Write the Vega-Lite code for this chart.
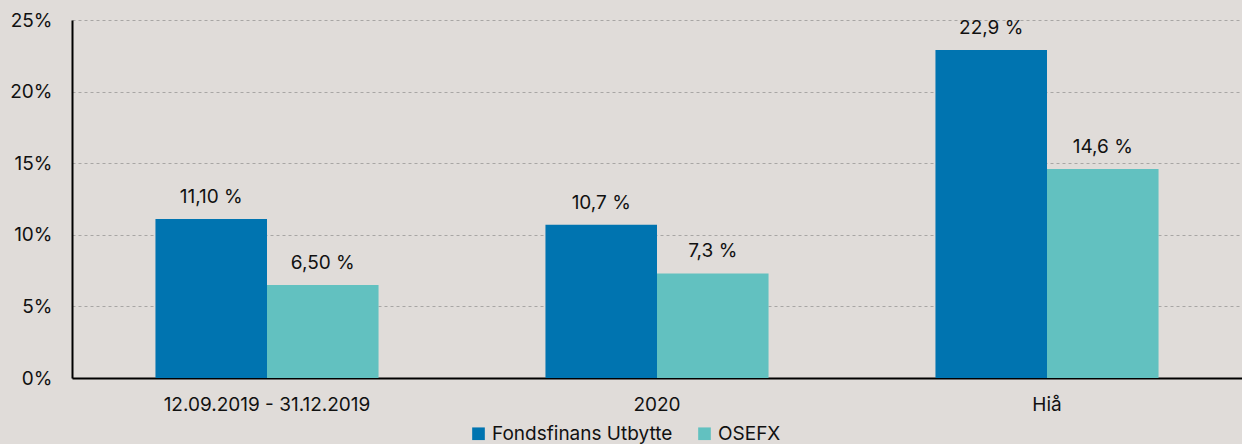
{
  "$schema": "https://vega.github.io/schema/vega-lite/v6.json",
  "width": 1170,
  "height": 358,
  "autosize": {"type": "none"},
  "padding": {"left": 72, "top": 20, "right": 0, "bottom": 66},
  "background": "#e0dcd9",
  "config": {
    "view": {"stroke": null},
    "font": "Inter",
    "axis": {"labelFont": "Inter", "labelColor": "#111", "labelFontSize": 19, "labelLimit": 0},
    "legend": {"labelFont": "Inter", "labelColor": "#111", "labelFontSize": 19, "labelLimit": 0}
  },
  "data": {
    "values": [
      {"period": "12.09.2019 - 31.12.2019", "series": "Fondsfinans Utbytte", "value": 11.1, "label": "11,10 %"},
      {"period": "12.09.2019 - 31.12.2019", "series": "OSEFX", "value": 6.5, "label": "6,50 %"},
      {"period": "2020", "series": "Fondsfinans Utbytte", "value": 10.7, "label": "10,7 %"},
      {"period": "2020", "series": "OSEFX", "value": 7.3, "label": "7,3 %"},
      {"period": "Hiå", "series": "Fondsfinans Utbytte", "value": 22.9, "label": "22,9 %"},
      {"period": "Hiå", "series": "OSEFX", "value": 14.6, "label": "14,6 %"}
    ]
  },
  "encoding": {
    "x": {
      "field": "period", "type": "nominal", "sort": null, "title": null,
      "scale": {"paddingInner": 0.428, "paddingOuter": 0.214},
      "axis": {"labelAngle": 0, "ticks": false, "domainColor": "#000", "domainWidth": 2, "labelPadding": 17, "grid": false}
    },
    "xOffset": {"field": "series", "type": "nominal", "sort": ["Fondsfinans Utbytte", "OSEFX"]},
    "y": {
      "field": "value", "type": "quantitative", "title": null,
      "scale": {"domain": [0, 25], "nice": false},
      "axis": {"values": [0, 5, 10, 15, 20, 25], "labelExpr": "datum.value + '%'", "ticks": false,
        "domainColor": "#000", "domainWidth": 2, "labelPadding": 20,
        "gridColor": "#a8a6a4", "gridDash": [3, 3], "gridWidth": 1}
    }
  },
  "layer": [
    {
      "mark": {"type": "bar"},
      "encoding": {
        "color": {
          "field": "series", "type": "nominal", "title": null,
          "scale": {"domain": ["Fondsfinans Utbytte", "OSEFX"], "range": ["#0074b0", "#62c1c0"]},
          "legend": {"orient": "none", "direction": "horizontal", "legendX": 397, "legendY": 404,
            "symbolType": "square", "symbolSize": 160, "symbolStrokeWidth": 0, "symbolOffset": 0, "labelOffset": 4, "columnPadding": 22}
        }
      }
    },
    {
      "mark": {"type": "text", "baseline": "bottom", "dy": -12, "fontSize": 19, "color": "#111"},
      "encoding": {"text": {"field": "label"}}
    }
  ]
}
